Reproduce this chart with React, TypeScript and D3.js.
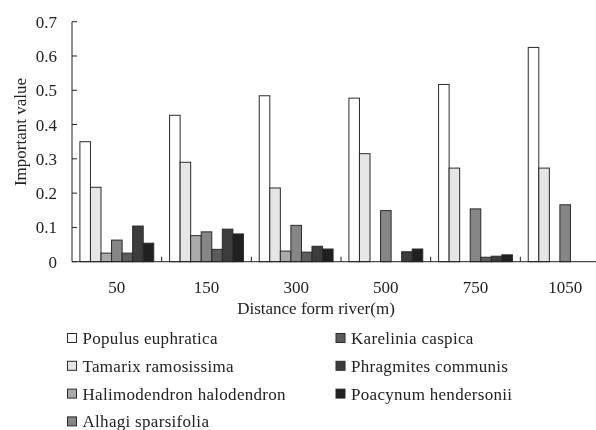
import React, { useEffect, useRef } from "react";
import * as d3 from "d3";

// distances from the river (m)
const categories = ["50", "150", "300", "500", "750", "1050"];

const seriesNames = [
  "Populus euphratica",
  "Tamarix ramosissima",
  "Halimodendron halodendron",
  "Alhagi sparsifolia",
  "Karelinia caspica",
  "Phragmites communis",
  "Poacynum hendersonii",
];

const populus = [0.35, 0.427, 0.484, 0.477, 0.517, 0.625];
const tamarix = [0.217, 0.29, 0.215, 0.315, 0.273, 0.273];
const halimodendron = [0.025, 0.076, 0.031, 0, 0, 0];
const alhagi = [0.063, 0.087, 0.106, 0.149, 0.154, 0.166];
const karelinia = [0.025, 0.036, 0.028, 0, 0.013, 0];
const phragmites = [0.104, 0.095, 0.045, 0.029, 0.016, 0];
const poacynum = [0.054, 0.081, 0.037, 0.037, 0.02, 0];

const yTicks = [0, 0.1, 0.2, 0.3, 0.4, 0.5, 0.6, 0.7];

const seriesValues = [populus, tamarix, halimodendron, alhagi, karelinia, phragmites, poacynum];
const colors = ["#ffffff", "#e6e6e6", "#aaaaaa", "#868686", "#5c5c5c", "#3c3c3c", "#202020"];

const App = () => {
  const ref = useRef<SVGSVGElement>(null);

  useEffect(() => {
    const svg = d3.select(ref.current);
    svg.selectAll("*").remove();

    const width = 596;
    const height = 430;
    const font = "'Liberation Serif', 'Times New Roman', serif";
    const fs = 17;

    svg.attr("width", width).attr("height", height);

    // axis runs past the right edge like the cropped original
    var x = d3.scaleBand().domain(categories).range([72, 610]);
    var xs = d3
      .scaleBand()
      .domain(seriesNames)
      .range([0, x.bandwidth()])
      .paddingInner(0)
      .paddingOuter(0.75);
    var y = d3.scaleLinear().domain([0, 0.7]).range([261.7, 21.7]);

    // bars
    const groups = svg
      .append("g")
      .selectAll("g")
      .data(categories)
      .enter()
      .append("g")
      .attr("transform", (d) => "translate(" + x(d) + ",0)");

    groups
      .selectAll("rect")
      .data((c, i) => seriesNames.map((s, k) => ({ s, k, v: seriesValues[k][i] })))
      .enter()
      .filter((d) => d.v > 0)
      .append("rect")
      .attr("x", (d) => xs(d.s)!)
      .attr("width", xs.bandwidth())
      .attr("y", (d) => y(d.v))
      .attr("height", (d) => y(0) - y(d.v))
      .attr("fill", (d) => colors[d.k])
      .attr("stroke", "#2a2a2a")
      .attr("stroke-width", 1);

    // y axis
    const yAxis = svg.append("g").attr("transform", "translate(72,0)");
    yAxis.append("line").attr("y1", y(0.7)).attr("y2", y(0)).attr("stroke", "#222");
    yTicks.forEach((t) => {
      yAxis.append("line").attr("x1", 0).attr("x2", 5).attr("y1", y(t)).attr("y2", y(t)).attr("stroke", "#222");
      yAxis
        .append("text")
        .attr("x", -15)
        .attr("y", y(t))
        .attr("dy", "0.35em")
        .attr("text-anchor", "end")
        .attr("font-family", font)
        .attr("font-size", fs)
        .attr("fill", "#222")
        .text(String(t));
    });

    // x axis
    const xAxis = svg.append("g");
    xAxis.append("line").attr("x1", 72).attr("x2", 610).attr("y1", y(0)).attr("y2", y(0)).attr("stroke", "#222");
    categories.forEach((c) => {
      xAxis
        .append("line")
        .attr("x1", x(c)! + x.bandwidth())
        .attr("x2", x(c)! + x.bandwidth())
        .attr("y1", y(0))
        .attr("y2", y(0) - 5)
        .attr("stroke", "#222");
      xAxis
        .append("text")
        .attr("x", x(c)! + x.bandwidth() / 2)
        .attr("y", 293)
        .attr("text-anchor", "middle")
        .attr("font-family", font)
        .attr("font-size", fs)
        .attr("fill", "#222")
        .text(c);
    });

    // axis titles
    svg
      .append("text")
      .attr("x", 316)
      .attr("y", 314)
      .attr("text-anchor", "middle")
      .attr("font-family", font)
      .attr("font-size", fs)
      .attr("fill", "#222")
      .text("Distance form river(m)");

    svg
      .append("text")
      .attr("transform", "translate(26,132) rotate(-90)")
      .attr("text-anchor", "middle")
      .attr("font-family", font)
      .attr("font-size", fs)
      .attr("fill", "#222")
      .text("Important value");

    // legend, two columns filled top to bottom
    const legend = svg
      .append("g")
      .selectAll("g")
      .data(seriesNames)
      .enter()
      .append("g")
      .attr("transform", (d, i) => {
        const col = i < 4 ? 0 : 1;
        const row = i < 4 ? i : i - 4;
        return "translate(" + (col === 0 ? 67.5 : 336) + "," + (338 + row * 27.8) + ")";
      });

    legend
      .append("rect")
      .attr("x", 0)
      .attr("y", -4.5)
      .attr("width", 9)
      .attr("height", 9)
      .attr("fill", (d, i) => colors[i])
      .attr("stroke", "#2a2a2a");

    legend
      .append("text")
      .attr("x", 15)
      .attr("y", 0)
      .attr("dy", "0.35em")
      .attr("font-family", font)
      .attr("font-size", fs)
      .attr("letter-spacing", 0.3)
      .attr("fill", "#222")
      .text((d) => d);
  }, []);

  return (
    <div style={{ position: "fixed", left: 0, top: 0 }}>
      <svg ref={ref}></svg>
    </div>
  );
};

export default App;
